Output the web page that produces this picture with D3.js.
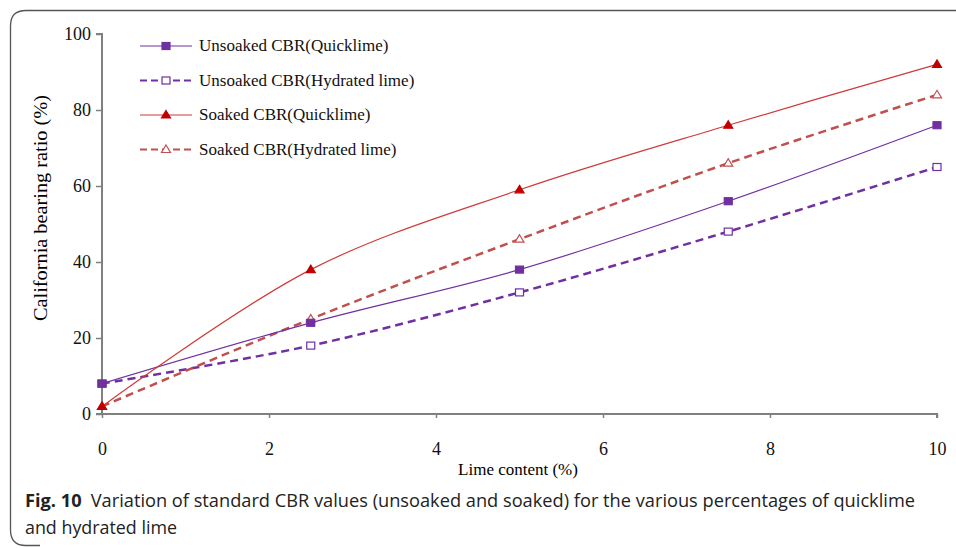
<!DOCTYPE html>
<html>
<head>
<meta charset="utf-8">
<script src="https://cdn.jsdelivr.net/npm/d3@7"></script>
<style>
body { margin: 0; background: #fff; }
</style>
</head>
<body>
<script>
// lime content (%) and CBR values
var limeContent = [0, 2.5, 5, 7.5, 10];
var unsoakedQuick = [8, 24, 38, 56, 76];
var unsoakedHydrated = [8, 18, 32, 48, 65];
var soakedQuick = [2, 38, 59, 76, 92];
var soakedHydrated = [2, 25, 46, 66, 84];
var xTicks = [0, 2, 4, 6, 8, 10];
var yTicks = [0, 20, 40, 60, 80, 100];

var seriesNames = ["Unsoaked CBR(Quicklime)", "Unsoaked CBR(Hydrated lime)",
	"Soaked CBR(Quicklime)", "Soaked CBR(Hydrated lime)"];

var series = [
	{name: seriesNames[0], values: unsoakedQuick, colour: "#7030a0", dash: null, width: 1.2, marker: "square", fill: "#7030a0"},
	{name: seriesNames[1], values: unsoakedHydrated, colour: "#7030a0", dash: "8,5", width: 2.5, marker: "square", fill: "#fff"},
	{name: seriesNames[2], values: soakedQuick, colour: "#d03a3a", dash: null, width: 1.2, marker: "triangle", fill: "#c00000"},
	{name: seriesNames[3], values: soakedHydrated, colour: "#c0504d", dash: "8,5", width: 2.5, marker: "triangle", fill: "#fff"}
];
// plotting order: dashed (hydrated) first so solid markers sit on top
var drawOrder = [1, 3, 0, 2];

var svg = d3.select("body").append("svg")
	.attr("width", 956).attr("height", 548);

// card outline, open at the right
svg.append("path")
	.attr("d", "M956,10.5 H26 Q10.5,10.5 10.5,26 V530 Q10.5,545.5 26,545.5 H40")
	.attr("fill", "none").attr("stroke", "#555").attr("stroke-width", 1.3);

var x = d3.scaleLinear().domain([0, 10]).range([102, 937]);
var y = d3.scaleLinear().domain([0, 100]).range([414, 34]);

var axisColour = "#808080";
var serif = "'Liberation Serif', 'Times New Roman', serif";

// y axis
var yAxis = svg.append("g")
	.attr("transform", "translate(102,0)")
	.call(d3.axisLeft(y).tickValues(yTicks).tickSize(6).tickPadding(5));
// x axis
var xAxis = svg.append("g")
	.attr("transform", "translate(0,414)")
	.call(d3.axisBottom(x).tickValues(xTicks).tickSize(4).tickPadding(24));

[xAxis, yAxis].forEach(function(a){
	a.select(".domain").attr("stroke", axisColour).attr("stroke-width", 2);
	a.selectAll(".tick line").attr("stroke", axisColour).attr("stroke-width", 1.5);
	a.selectAll("text").attr("fill", "#111")
		.style("font-family", serif)
		.style("font-size", "18px");
});
yAxis.select(".domain").attr("d", "M-6," + y(100) + "H0V" + y(0) + "H-6");
xAxis.select(".domain").attr("d", "M" + x(0) + ",0H" + x(10) + "V4");

svg.append("text")
	.attr("x", 518).attr("y", 475)
	.attr("text-anchor", "middle")
	.style("font-family", serif).style("font-size", "17px")
	.text("Lime content (%)");

svg.append("text")
	.attr("transform", "translate(47,208) rotate(-90)")
	.attr("text-anchor", "middle")
	.attr("textLength", 226).attr("lengthAdjust", "spacingAndGlyphs")
	.style("font-family", serif).style("font-size", "18px")
	.text("California bearing ratio (%)");

var line = d3.line()
	.x(function(d, i){ return x(limeContent[i]); })
	.y(function(d){ return y(d); })
	.curve(d3.curveCatmullRom.alpha(0.5));

function drawMarker(g, type, cx, cy, s){
	if (type === "square") {
		g.append("rect")
			.attr("x", cx - 4).attr("y", cy - 3.5).attr("width", 8).attr("height", 7)
			.attr("fill", s.fill).attr("stroke", s.colour).attr("stroke-width", 1.2);
	} else {
		g.append("path")
			.attr("d", "M" + cx + "," + (cy - 4.5) + "L" + (cx + 4.5) + "," + (cy + 3) + "L" + (cx - 4.5) + "," + (cy + 3) + "Z")
			.attr("fill", s.fill).attr("stroke", s.fill === "#fff" ? s.colour : "#c00000").attr("stroke-width", 1.2);
	}
}

drawOrder.forEach(function(k){
	var s = series[k];
	var g = svg.append("g");
	g.append("path")
		.attr("d", line(s.values))
		.attr("fill", "none")
		.attr("stroke", s.colour)
		.attr("stroke-width", s.width)
		.attr("stroke-dasharray", s.dash);
	s.values.forEach(function(v, i){
		drawMarker(g, s.marker, x(limeContent[i]), y(v), s);
	});
});

// legend
var legend = svg.append("g");
series.forEach(function(s, i){
	var ly = 46 + i * 34.5;
	legend.append("line")
		.attr("x1", 140).attr("x2", 192).attr("y1", ly).attr("y2", ly)
		.attr("stroke", s.colour).attr("stroke-width", s.width === 1.2 ? 1.2 : 2)
		.attr("stroke-dasharray", s.dash ? "7,4" : null);
	drawMarker(legend, s.marker, 166, ly, s);
	legend.append("text")
		.attr("x", 199).attr("y", ly + 5)
		.style("font-family", serif).style("font-size", "17px")
		.attr("fill", "#111")
		.text(s.name);
});

// caption
var capFont = "'Open Sans', 'Noto Sans', sans-serif";
var cap = svg.append("text")
	.attr("x", 25).attr("y", 507)
	.attr("textLength", 890).attr("lengthAdjust", "spacingAndGlyphs")
	.style("font-family", capFont).style("font-size", "17.5px")
	.attr("fill", "#222");
cap.append("tspan").attr("font-weight", "bold").text("Fig. 10");
cap.append("tspan").text("\u2002Variation of standard CBR values (unsoaked and soaked) for the various percentages of quicklime");
svg.append("text")
	.attr("x", 25).attr("y", 534)
	.attr("textLength", 152).attr("lengthAdjust", "spacingAndGlyphs")
	.style("font-family", capFont).style("font-size", "17.5px")
	.attr("fill", "#222")
	.text("and hydrated lime");
</script>
</body>
</html>
